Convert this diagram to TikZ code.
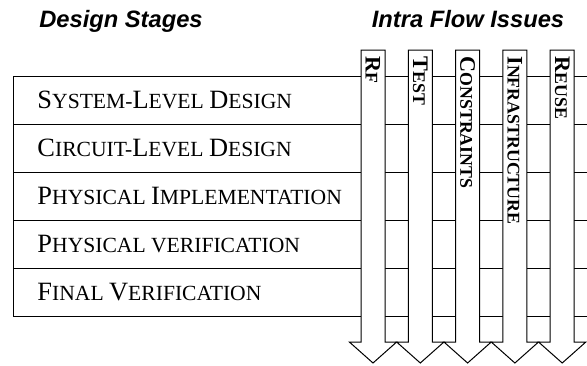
\documentclass[tikz,border=0pt]{standalone}
\usepackage{fontspec}
\setmainfont{Liberation Serif}
\setsansfont{Liberation Sans}
\newcommand{\stagesc}[2]{{\fontsize{26.4}{26.4}\selectfont #1}{\fontsize{21.6}{21.6}\selectfont #2}}
\newcommand{\issuesc}[2]{{\fontsize{22.2}{22.2}\selectfont\bfseries #1}{\fontsize{17.8}{17.8}\selectfont\bfseries #2}}

\begin{document}
\begin{tikzpicture}[x=1pt,y=-1pt,line width=1pt]
	\tikzstyle{every node}=[inner sep=0pt]
	\tikzstyle{head}=[font=\sffamily\bfseries\itshape\fontsize{23.7}{23.7}\selectfont, anchor=base]
	\tikzstyle{stage}=[anchor=base west]
	\tikzstyle{issue}=[rotate=-90, anchor=west]
	\tikzstyle{flow}=[draw, fill=white]
	\useasboundingbox (0,0) rectangle (587,365);
	\clip (0,0) rectangle (587,365);
	\node [head] (dstages) at (121,27) {Design Stages};
	\node [head] (fissues) at (468,27) {Intra Flow Issues};
	% design stages
	\draw (13,76) rectangle (600,124);
	\draw (13,124) rectangle (600,172);
	\draw (13,172) rectangle (600,220);
	\draw (13,220) rectangle (600,268);
	\draw (13,268) rectangle (600,316);
	\node [stage] (sysdes) at (37,108) {\stagesc{S}{YSTEM-}\stagesc{L}{EVEL }\stagesc{D}{ESIGN}};
	\node [stage] (cirdes) at (37,156) {\stagesc{C}{IRCUIT-}\stagesc{L}{EVEL }\stagesc{D}{ESIGN}};
	\node [stage] (phyimp) at (37,204) {\stagesc{P}{HYSICAL }\stagesc{I}{MPLEMENTATION}};
	\node [stage] (phyver) at (37,252) {\stagesc{P}{HYSICAL VERIFICATION}};
	\node [stage] (finver) at (37,300) {\stagesc{F}{INAL }\stagesc{V}{ERIFICATION}};
	% flow arrows
	\draw [flow] (361,50) -- (385,50) -- (385,342) -- (396.65,342) -- (373,363) -- (349.35,342) -- (361,342) -- cycle;
	\draw [flow] (408.3,50) -- (432.3,50) -- (432.3,342) -- (443.95,342) -- (420.3,363) -- (396.65,342) -- (408.3,342) -- cycle;
	\draw [flow] (455.6,50) -- (479.6,50) -- (479.6,342) -- (491.25,342) -- (467.6,363) -- (443.95,342) -- (455.6,342) -- cycle;
	\draw [flow] (502.9,50) -- (526.9,50) -- (526.9,342) -- (538.55,342) -- (514.9,363) -- (491.25,342) -- (502.9,342) -- cycle;
	\draw [flow] (550.2,50) -- (574.2,50) -- (574.2,342) -- (585.85,342) -- (562.2,363) -- (538.55,342) -- (550.2,342) -- cycle;
	\node [issue] (rf) at (373,56) {\issuesc{R}{F}};
	\node [issue] (test) at (420.3,56) {\issuesc{T}{EST}};
	\node [issue] (constr) at (467.6,56) {\issuesc{C}{ONSTRAINTS}};
	\node [issue] (infra) at (514.9,56) {\issuesc{I}{NFRASTRUCTURE}};
	\node [issue] (reuse) at (562.2,56) {\issuesc{R}{EUSE}};
\end{tikzpicture}
\end{document}
